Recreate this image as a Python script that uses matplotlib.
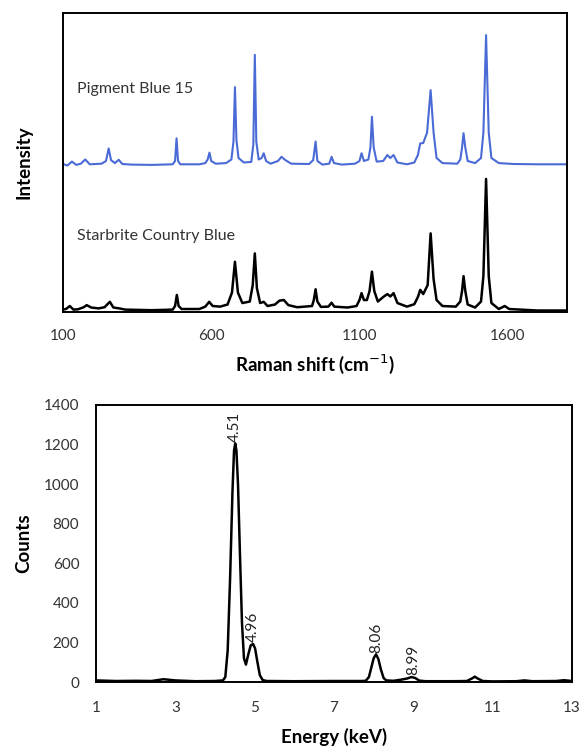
import matplotlib.pyplot as plt

plt.rcParams['font.family'] = ['Lato', 'DejaVu Sans']

# Raman spectra (arbitrary intensity units, axis spans 0-100)
raman_shift_blue = [100, 115, 130, 145, 160, 175, 190, 230, 245, 254, 262, 275, 288, 300, 330,
                    400, 470, 478, 483, 488, 496, 560, 580, 588, 594, 600, 615, 650, 668, 675,
                    680, 685, 692, 710, 735, 742, 747, 752, 760, 770, 777, 785, 800, 825, 837,
                    850, 870, 930, 944, 952, 958, 975, 998, 1006, 1014, 1040, 1085, 1100, 1107,
                    1115, 1130, 1137, 1142, 1148, 1158, 1180, 1194, 1204, 1215, 1228, 1260, 1285,
                    1297, 1305, 1315, 1328, 1340, 1350, 1360, 1380, 1430, 1440, 1446, 1451, 1457,
                    1465, 1490, 1510, 1518, 1527, 1536, 1545, 1570, 1620, 1700, 1800]
intensity_blue = [49.5, 49.0, 50.3, 49.2, 49.6, 51.0, 49.4, 49.6, 50.5, 54.7, 50.8, 49.8, 50.9,
                  49.5, 49.3, 49.2, 49.4, 50.5, 58.1, 50.5, 49.4, 49.4, 49.8, 51.0, 53.3, 50.5,
                  49.6, 49.8, 51.0, 57.0, 75.2, 57.5, 51.5, 50.0, 50.2, 56.0, 86.0, 57.0, 51.0,
                  51.5, 53.1, 50.5, 49.6, 50.5, 51.9, 50.8, 49.6, 49.5, 50.8, 57.0, 50.5, 49.3,
                  49.6, 51.9, 49.8, 49.3, 49.6, 50.5, 53.1, 50.5, 51.0, 55.0, 65.3, 55.0, 50.3,
                  50.5, 52.5, 51.5, 52.5, 50.0, 49.4, 50.0, 52.5, 56.4, 56.5, 60.0, 74.2, 60.0,
                  51.5, 49.8, 49.6, 51.0, 55.0, 59.8, 55.0, 50.5, 49.8, 51.5, 60.0, 92.6, 60.0,
                  51.5, 49.8, 49.5, 49.4, 49.4]

raman_shift_black = [100, 110, 123, 135, 150, 170, 180, 195, 220, 240, 258, 270, 290, 310, 400,
                     470, 478, 484, 490, 500, 560, 580, 593, 605, 630, 655, 670, 680, 690, 705,
                     730, 740, 747, 754, 765, 777, 790, 815, 830, 845, 860, 890, 940, 946, 952,
                     958, 970, 995, 1006, 1015, 1060, 1090, 1100, 1107, 1115, 1125, 1134, 1142,
                     1150, 1162, 1180, 1194, 1204, 1215, 1228, 1260, 1285, 1297, 1305, 1315, 1330,
                     1340, 1350, 1360, 1380, 1425, 1440, 1446, 1451, 1457, 1465, 1490, 1510, 1518,
                     1527, 1536, 1545, 1570, 1590, 1605, 1700, 1800]
intensity_black = [0.8, 1.0, 2.0, 0.8, 0.9, 1.6, 2.3, 1.5, 1.2, 1.6, 3.4, 1.5, 1.2, 0.8, 0.6,
                   0.8, 2.0, 5.7, 2.0, 1.0, 1.0, 1.8, 3.4, 2.0, 1.8, 2.5, 6.5, 16.8, 6.5, 3.0,
                   3.5, 9.0, 19.6, 8.0, 3.0, 3.4, 2.0, 2.5, 3.8, 4.0, 2.3, 1.6, 2.0, 4.0, 7.6,
                   3.5, 1.7, 1.8, 3.1, 1.8, 1.5, 2.0, 4.0, 6.3, 4.0, 4.0, 7.0, 13.5, 7.0, 3.5,
                   5.0, 6.0, 5.2, 6.3, 3.0, 1.8, 2.6, 5.0, 7.4, 6.0, 9.0, 26.3, 11.0, 4.0, 2.0,
                   1.8, 3.5, 7.0, 12.0, 7.0, 2.5, 1.5, 3.5, 12.0, 44.5, 12.0, 3.0, 1.0, 2.0, 1.0,
                   0.5, 0.5]

# EDS spectrum
energy = [1.0, 1.5, 2.0, 2.4, 2.7, 3.0, 3.5, 4.0, 4.2, 4.26, 4.32, 4.38, 4.44, 4.48, 4.51,
          4.54, 4.58, 4.63, 4.68, 4.73, 4.78, 4.84, 4.90, 4.96, 5.01, 5.07, 5.13, 5.2, 5.3,
          6.0, 7.0, 7.7, 7.8, 7.88, 7.95, 8.0, 8.06, 8.12, 8.18, 8.25, 8.32, 8.5, 8.7, 8.85,
          8.95, 9.05, 9.15, 9.3, 10.0, 10.35, 10.48, 10.55, 10.62, 10.75, 11.0, 11.6, 11.8,
          12.0, 12.6, 12.8, 13.0]
counts = [8, 5, 6, 5, 14, 8, 4, 5, 8, 25, 160, 520, 960, 1170, 1206,
          1170, 1000, 640, 300, 120, 88, 140, 185, 192, 170, 100, 35, 10, 5,
          4, 5, 5, 6, 25, 80, 120, 140, 115, 65, 20, 8, 6, 12, 18,
          25, 20, 7, 4, 4, 5, 18, 27, 18, 5, 3, 4, 8,
          4, 5, 9, 5]

peak_labels = ['4.51', '4.96', '8.06', '8.99']
peak_energy = [4.51, 4.96, 8.06, 8.99]
peak_counts = [1206, 192, 140, 25]

fig = plt.figure(figsize=(5.82, 7.47), dpi=100)

# top: Raman
ax1 = fig.add_axes([63 / 582, 1 - 312 / 747, 504 / 582, 299 / 747])
ax1.plot(raman_shift_blue, intensity_blue, color='#4a6ad6', lw=1.5)
ax1.plot(raman_shift_black, intensity_black, color='black', lw=1.8)
ax1.set_xlim(100, 1800)
ax1.set_ylim(0, 100)
ax1.set_xticks([100, 600, 1100, 1600])
ax1.set_yticks([])
ax1.tick_params(axis='x', length=0, pad=12, labelsize=11, labelcolor='#333333')
ax1.text(0.027, 0.745, 'Pigment Blue 15', transform=ax1.transAxes, fontsize=11.5,
         color='#333333', va='center')
ax1.text(0.027, 0.255, 'Starbrite Country Blue', transform=ax1.transAxes, fontsize=11.5,
         color='#333333', va='center')
ax1.set_xlabel('Raman shift (cm$^{-1}$)', fontsize=13.5, fontweight='bold', labelpad=7)
ax1.set_ylabel('Intensity', fontsize=13.5, fontweight='bold', labelpad=22)
for s in ax1.spines.values():
    s.set_linewidth(1.4)

# bottom: EDS
ax2 = fig.add_axes([96 / 582, 1 - 682 / 747, 476 / 582, 277 / 747])
ax2.plot(energy, counts, color='black', lw=1.8)
ax2.set_xlim(1, 13)
ax2.set_ylim(0, 1400)
ax2.set_xticks([1, 3, 5, 7, 9, 11, 13])
ax2.set_yticks(range(0, 1401, 200))
ax2.tick_params(length=0, labelsize=11, labelcolor='#333333')
ax2.tick_params(axis='x', pad=14)
ax2.tick_params(axis='y', pad=12)
for lab, e, c in zip(peak_labels, peak_energy, peak_counts):
    ax2.text(e, c + 8, lab, rotation=90, ha='center', va='bottom', fontsize=11,
             color='#222222')
ax2.set_xlabel('Energy (keV)', fontsize=13.5, fontweight='bold', labelpad=9)
ax2.set_ylabel('Counts', fontsize=13.5, fontweight='bold', labelpad=8)
for s in ax2.spines.values():
    s.set_linewidth(1.4)

fig.savefig('out.png', dpi=100)
